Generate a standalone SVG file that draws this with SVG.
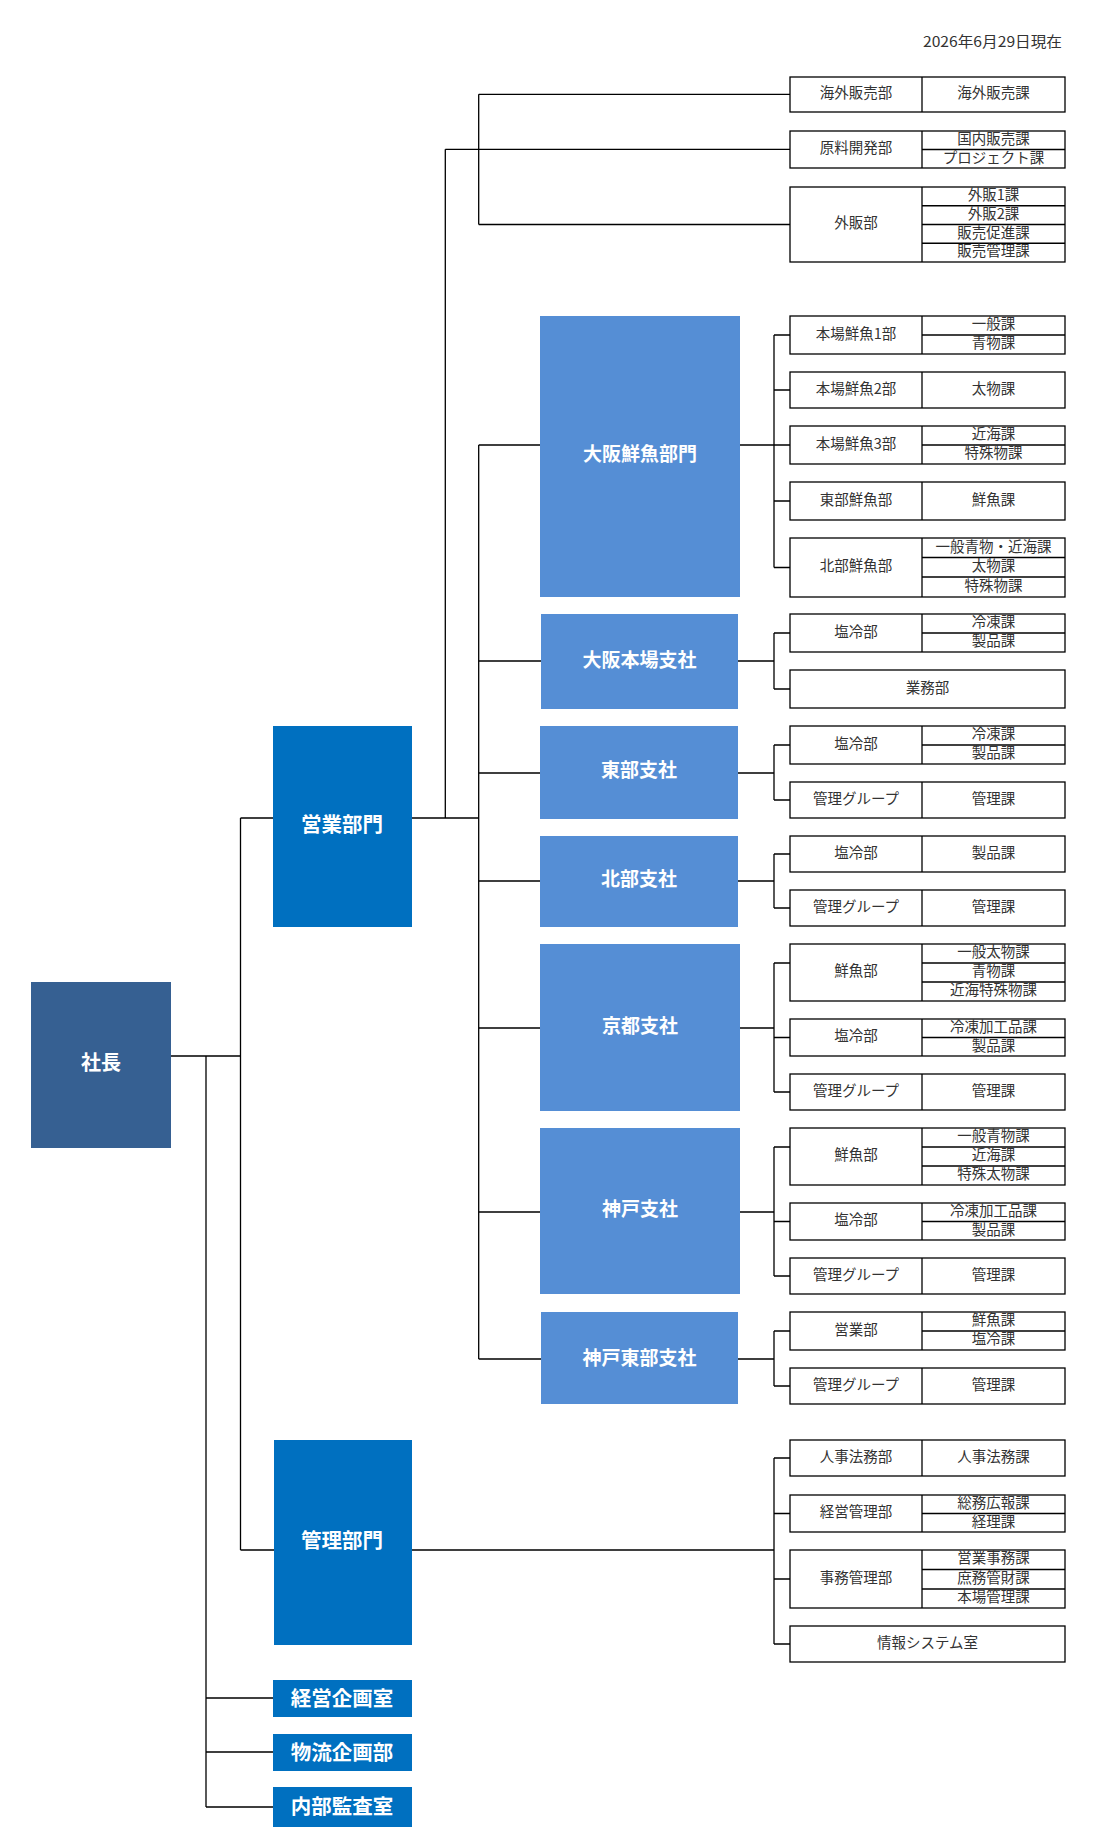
<svg xmlns="http://www.w3.org/2000/svg" width="1120" height="1848" viewBox="0 0 1120 1848">
<style>
.b{fill:#fff;stroke:#000;stroke-width:1.3}
.d{stroke:#000;stroke-width:1.3}
.c line,.c path{stroke:#000;stroke-width:1.3;fill:none}
.t{font-family:"Noto Sans CJK JP","Noto Sans",sans-serif;font-size:14.5px;fill:#333;text-anchor:middle;dominant-baseline:central}
.w{font-family:"Noto Sans CJK JP","Noto Sans",sans-serif;font-weight:700;fill:#fff;text-anchor:middle;dominant-baseline:central}
.top{fill:#366092}
.dep{fill:#0070C0}
.br{fill:#558ED5}
</style>
<rect width="1120" height="1848" fill="#fff"/>
<text class="t" x="1062" y="40" style="text-anchor:end" textLength="139" lengthAdjust="spacingAndGlyphs">2026年6月29日現在</text>

<g id="connectors" class="c">
<path d="M171 1056H240.5M206 1056V1807M206 1698H273M206 1752H273M206 1807H273"/>
<path d="M240.5 818V1550M240.5 818H273M240.5 1550H274"/>
<path d="M412 818H478.7M445.3 149.3V818M445.3 149.3H790"/>
<path d="M478.7 94.3V224.5M478.7 94.3H790M478.7 224.5H790"/>
<path d="M478.7 445V1359M478.7 445H540M478.7 661H541M478.7 773H540M478.7 881H540M478.7 1028H540M478.7 1212H540M478.7 1359H541"/>
<path d="M740 445H774M774 335V567.5M774 335H790M774 390H790M774 445H790M774 501H790M774 567.5H790"/>
<path d="M738 661H774M774 633V689M774 633H790M774 689H790"/>
<path d="M738 773H774M774 745V800M774 745H790M774 800H790"/>
<path d="M738 881H774M774 854V908M774 854H790M774 908H790"/>
<path d="M740 1028H774M774 963V1092M774 963H790M774 1037.5H790M774 1092H790"/>
<path d="M740 1212H774M774 1147V1276M774 1147H790M774 1221.5H790M774 1276H790"/>
<path d="M738 1359H774M774 1331V1386M774 1331H790M774 1386H790"/>
<path d="M412 1550H774M774 1458V1644M774 1458H790M774 1513.5H790M774 1579H790M774 1644H790"/>
</g>

<g id="n-shacho"><rect class="top" x="31" y="982" width="140" height="166"/><text class="w" x="101" y="1061.5" font-size="20">社長</text></g>
<g id="n-eigyo"><rect class="dep" x="273" y="726" width="139" height="201"/><text class="w" x="342" y="822.5" font-size="20.5">営業部門</text></g>
<g id="n-kanri"><rect class="dep" x="274" y="1440" width="138" height="205"/><text class="w" x="342" y="1538.5" font-size="20.5">管理部門</text></g>
<g id="n-keiei"><rect class="dep" x="273" y="1680" width="139" height="37"/><text class="w" x="342" y="1697" font-size="20.5">経営企画室</text></g>
<g id="n-butsuryu"><rect class="dep" x="273" y="1734" width="139" height="37"/><text class="w" x="342" y="1751" font-size="20.5">物流企画部</text></g>
<g id="n-kansa"><rect class="dep" x="273" y="1787" width="139" height="40"/><text class="w" x="342" y="1805" font-size="20.5">内部監査室</text></g>

<g id="n-osaka-sengyo"><rect class="br" x="540" y="316" width="200" height="281"/><text class="w" x="640" y="452" font-size="19">大阪鮮魚部門</text></g>
<g id="n-osaka-honjo"><rect class="br" x="541" y="614" width="197" height="95"/><text class="w" x="639.5" y="658" font-size="19">大阪本場支社</text></g>
<g id="n-tobu"><rect class="br" x="540" y="726" width="198" height="93"/><text class="w" x="639" y="768" font-size="19">東部支社</text></g>
<g id="n-hokubu"><rect class="br" x="540" y="836" width="198" height="91"/><text class="w" x="639" y="877" font-size="19">北部支社</text></g>
<g id="n-kyoto"><rect class="br" x="540" y="944" width="200" height="167"/><text class="w" x="640" y="1024" font-size="19">京都支社</text></g>
<g id="n-kobe"><rect class="br" x="540" y="1128" width="200" height="166"/><text class="w" x="640" y="1207" font-size="19">神戸支社</text></g>
<g id="n-kobe-tobu"><rect class="br" x="541" y="1312" width="197" height="92"/><text class="w" x="639.5" y="1356" font-size="19">神戸東部支社</text></g>

<g id="n-kaigai"><rect class="b" x="790" y="77" width="275" height="35"/><line class="d" x1="922" y1="77" x2="922" y2="112"/><text class="t" x="856" y="91">海外販売部</text><text class="t" x="993.5" y="91">海外販売課</text></g>
<g id="n-genryo"><rect class="b" x="790" y="131" width="275" height="37"/><line class="d" x1="922" y1="131" x2="922" y2="168"/><line class="d" x1="922" y1="149.5" x2="1065" y2="149.5"/><text class="t" x="856" y="146">原料開発部</text><text class="t" x="993.5" y="137">国内販売課</text><text class="t" x="993.5" y="156">プロジェクト課</text></g>
<g id="n-gaihan"><rect class="b" x="790" y="187" width="275" height="75"/><line class="d" x1="922" y1="187" x2="922" y2="262"/><line class="d" x1="922" y1="205.75" x2="1065" y2="205.75"/><line class="d" x1="922" y1="224.5" x2="1065" y2="224.5"/><line class="d" x1="922" y1="243.25" x2="1065" y2="243.25"/><text class="t" x="856" y="221">外販部</text><text class="t" x="993.5" y="193.5">外販1課</text><text class="t" x="993.5" y="212">外販2課</text><text class="t" x="993.5" y="231">販売促進課</text><text class="t" x="993.5" y="249.7">販売管理課</text></g>

<g id="n-honjo1"><rect class="b" x="790" y="316" width="275" height="38"/><line class="d" x1="922" y1="316" x2="922" y2="354"/><line class="d" x1="922" y1="335" x2="1065" y2="335"/><text class="t" x="856" y="332">本場鮮魚1部</text><text class="t" x="993.5" y="322.5">一般課</text><text class="t" x="993.5" y="341.5">青物課</text></g>
<g id="n-honjo2"><rect class="b" x="790" y="372" width="275" height="36"/><line class="d" x1="922" y1="372" x2="922" y2="408"/><text class="t" x="856" y="387">本場鮮魚2部</text><text class="t" x="993.5" y="387">太物課</text></g>
<g id="n-honjo3"><rect class="b" x="790" y="426" width="275" height="38"/><line class="d" x1="922" y1="426" x2="922" y2="464"/><line class="d" x1="922" y1="445" x2="1065" y2="445"/><text class="t" x="856" y="442">本場鮮魚3部</text><text class="t" x="993.5" y="432.5">近海課</text><text class="t" x="993.5" y="451.5">特殊物課</text></g>
<g id="n-tobu-sengyo"><rect class="b" x="790" y="482" width="275" height="38"/><line class="d" x1="922" y1="482" x2="922" y2="520"/><text class="t" x="856" y="498">東部鮮魚部</text><text class="t" x="993.5" y="498">鮮魚課</text></g>
<g id="n-hokubu-sengyo"><rect class="b" x="790" y="538" width="275" height="59"/><line class="d" x1="922" y1="538" x2="922" y2="597"/><line class="d" x1="922" y1="557.5" x2="1065" y2="557.5"/><line class="d" x1="922" y1="577" x2="1065" y2="577"/><text class="t" x="856" y="564">北部鮮魚部</text><text class="t" x="993.5" y="545">一般青物・近海課</text><text class="t" x="993.5" y="564.3">太物課</text><text class="t" x="993.5" y="584">特殊物課</text></g>

<g id="n-oh-enrei"><rect class="b" x="790" y="614" width="275" height="38"/><line class="d" x1="922" y1="614" x2="922" y2="652"/><line class="d" x1="922" y1="633" x2="1065" y2="633"/><text class="t" x="856" y="630">塩冷部</text><text class="t" x="993.5" y="620.5">冷凍課</text><text class="t" x="993.5" y="639.5">製品課</text></g>
<g id="n-oh-gyomu"><rect class="b" x="790" y="670" width="275" height="38"/><text class="t" x="927.5" y="686">業務部</text></g>

<g id="n-to-enrei"><rect class="b" x="790" y="726" width="275" height="38"/><line class="d" x1="922" y1="726" x2="922" y2="764"/><line class="d" x1="922" y1="745" x2="1065" y2="745"/><text class="t" x="856" y="742">塩冷部</text><text class="t" x="993.5" y="732.5">冷凍課</text><text class="t" x="993.5" y="751.5">製品課</text></g>
<g id="n-to-kanri"><rect class="b" x="790" y="782" width="275" height="36"/><line class="d" x1="922" y1="782" x2="922" y2="818"/><text class="t" x="856" y="797">管理グループ</text><text class="t" x="993.5" y="797">管理課</text></g>

<g id="n-ho-enrei"><rect class="b" x="790" y="836" width="275" height="36"/><line class="d" x1="922" y1="836" x2="922" y2="872"/><text class="t" x="856" y="851">塩冷部</text><text class="t" x="993.5" y="851">製品課</text></g>
<g id="n-ho-kanri"><rect class="b" x="790" y="890" width="275" height="36"/><line class="d" x1="922" y1="890" x2="922" y2="926"/><text class="t" x="856" y="905">管理グループ</text><text class="t" x="993.5" y="905">管理課</text></g>

<g id="n-ky-sengyo"><rect class="b" x="790" y="944" width="275" height="57"/><line class="d" x1="922" y1="944" x2="922" y2="1001"/><line class="d" x1="922" y1="963" x2="1065" y2="963"/><line class="d" x1="922" y1="982" x2="1065" y2="982"/><text class="t" x="856" y="969">鮮魚部</text><text class="t" x="993.5" y="950.5">一般太物課</text><text class="t" x="993.5" y="969.5">青物課</text><text class="t" x="993.5" y="988.5">近海特殊物課</text></g>
<g id="n-ky-enrei"><rect class="b" x="790" y="1019" width="275" height="37"/><line class="d" x1="922" y1="1019" x2="922" y2="1056"/><line class="d" x1="922" y1="1037.5" x2="1065" y2="1037.5"/><text class="t" x="856" y="1034.5">塩冷部</text><text class="t" x="993.5" y="1025">冷凍加工品課</text><text class="t" x="993.5" y="1044">製品課</text></g>
<g id="n-ky-kanri"><rect class="b" x="790" y="1074" width="275" height="36"/><line class="d" x1="922" y1="1074" x2="922" y2="1110"/><text class="t" x="856" y="1089">管理グループ</text><text class="t" x="993.5" y="1089">管理課</text></g>

<g id="n-kb-sengyo"><rect class="b" x="790" y="1128" width="275" height="57"/><line class="d" x1="922" y1="1128" x2="922" y2="1185"/><line class="d" x1="922" y1="1147" x2="1065" y2="1147"/><line class="d" x1="922" y1="1166" x2="1065" y2="1166"/><text class="t" x="856" y="1153">鮮魚部</text><text class="t" x="993.5" y="1134.5">一般青物課</text><text class="t" x="993.5" y="1153.5">近海課</text><text class="t" x="993.5" y="1172.5">特殊太物課</text></g>
<g id="n-kb-enrei"><rect class="b" x="790" y="1203" width="275" height="37"/><line class="d" x1="922" y1="1203" x2="922" y2="1240"/><line class="d" x1="922" y1="1221.5" x2="1065" y2="1221.5"/><text class="t" x="856" y="1218.5">塩冷部</text><text class="t" x="993.5" y="1209">冷凍加工品課</text><text class="t" x="993.5" y="1228">製品課</text></g>
<g id="n-kb-kanri"><rect class="b" x="790" y="1258" width="275" height="36"/><line class="d" x1="922" y1="1258" x2="922" y2="1294"/><text class="t" x="856" y="1273">管理グループ</text><text class="t" x="993.5" y="1273">管理課</text></g>

<g id="n-kt-eigyo"><rect class="b" x="790" y="1312" width="275" height="38"/><line class="d" x1="922" y1="1312" x2="922" y2="1350"/><line class="d" x1="922" y1="1331" x2="1065" y2="1331"/><text class="t" x="856" y="1328">営業部</text><text class="t" x="993.5" y="1318.5">鮮魚課</text><text class="t" x="993.5" y="1337.5">塩冷課</text></g>
<g id="n-kt-kanri"><rect class="b" x="790" y="1368" width="275" height="36"/><line class="d" x1="922" y1="1368" x2="922" y2="1404"/><text class="t" x="856" y="1383">管理グループ</text><text class="t" x="993.5" y="1383">管理課</text></g>

<g id="n-jinji"><rect class="b" x="790" y="1440" width="275" height="36"/><line class="d" x1="922" y1="1440" x2="922" y2="1476"/><text class="t" x="856" y="1455">人事法務部</text><text class="t" x="993.5" y="1455">人事法務課</text></g>
<g id="n-keieikanri"><rect class="b" x="790" y="1495" width="275" height="37"/><line class="d" x1="922" y1="1495" x2="922" y2="1532"/><line class="d" x1="922" y1="1513.5" x2="1065" y2="1513.5"/><text class="t" x="856" y="1510.5">経営管理部</text><text class="t" x="993.5" y="1501">総務広報課</text><text class="t" x="993.5" y="1520">経理課</text></g>
<g id="n-jimu"><rect class="b" x="790" y="1550" width="275" height="58"/><line class="d" x1="922" y1="1550" x2="922" y2="1608"/><line class="d" x1="922" y1="1569.5" x2="1065" y2="1569.5"/><line class="d" x1="922" y1="1589" x2="1065" y2="1589"/><text class="t" x="856" y="1576">事務管理部</text><text class="t" x="993.5" y="1556.7">営業事務課</text><text class="t" x="993.5" y="1576.2">庶務管財課</text><text class="t" x="993.5" y="1595.6">本場管理課</text></g>
<g id="n-joho"><rect class="b" x="790" y="1626" width="275" height="36"/><text class="t" x="927.5" y="1641">情報システム室</text></g>
</svg>
